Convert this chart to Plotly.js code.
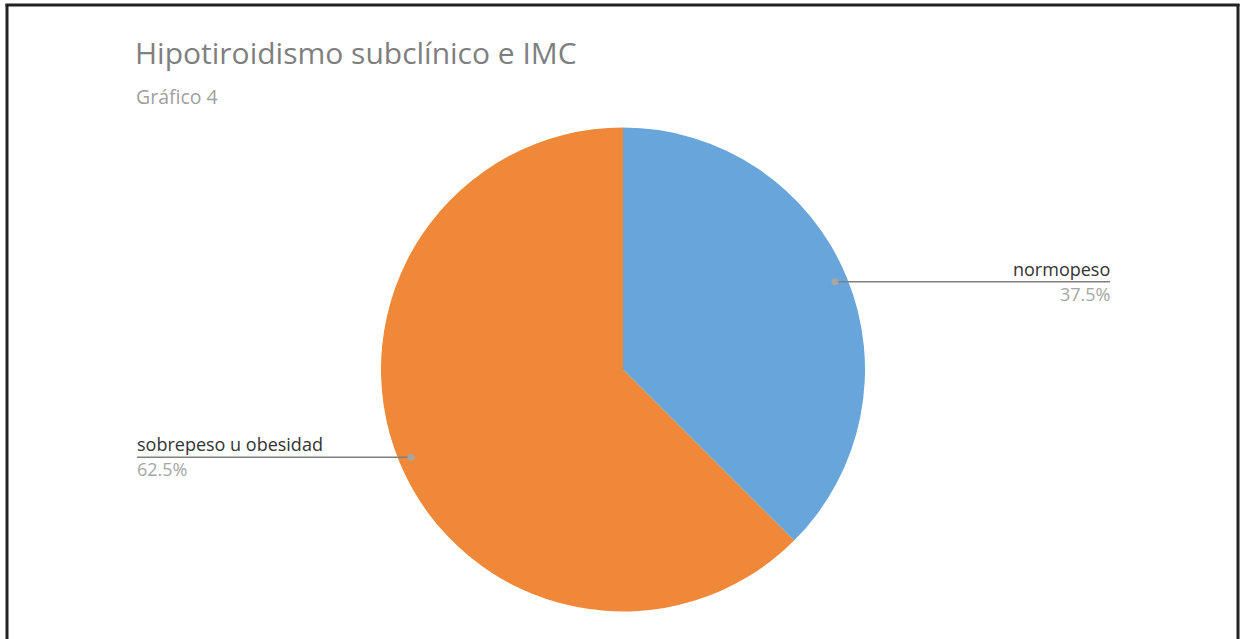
<!DOCTYPE html>
<html>
<head>
<meta charset="utf-8">
<script src="https://cdn.plot.ly/plotly-3.0.1.min.js"></script>
<style>
html,body{margin:0;padding:0;background:#fff;}
#chart{width:1243px;height:639px;}
</style>
</head>
<body>
<div id="chart"></div>
<script>
const categories = ["normopeso", "sobrepeso u obesidad"];
const values = [37.5, 62.5];
const percentLabels = ["37.5%", "62.5%"];
const colors = ["#68A5DA", "#EF8839"];

const W = 1243, H = 639;
const FONT = "Open Sans, Noto Sans, sans-serif";

// pie geometry (pixels)
const cx = 623, cy = 369.5, R = 242;
const domX = [2 * cx / W - 1, 1];
const domY = [1 - (cy + R) / H, 1 - (cy - R) / H];

const px = x => x / W;
const py = y => 1 - y / H;

// label leader geometry
const dotFrac = 0.948;
const labelEnds = [1110, 137];   // where the leader lines end, pixels

const total = values.reduce((a, b) => a + b, 0);
const shapes = [];
const annotations = [];
let cum = 0;
values.forEach((v, i) => {
  const mid = (cum + v / 2) / total * 2 * Math.PI;
  cum += v;
  const dx = Math.sin(mid) * R * dotFrac;
  const dy = -Math.cos(mid) * R * dotFrac;
  const dotX = cx + dx, dotY = cy + dy;
  const right = dx > 0;
  const endX = labelEnds[i];
  shapes.push({type: "line", xref: "paper", yref: "paper",
    x0: px(dotX), y0: py(dotY), x1: px(endX), y1: py(dotY),
    line: {color: "#808080", width: 1.5}});
  shapes.push({type: "circle", xref: "paper", yref: "paper",
    x0: px(dotX - 3.5), x1: px(dotX + 3.5), y0: py(dotY - 3.5), y1: py(dotY + 3.5),
    fillcolor: "#a6a6a6", line: {width: 0}});
  annotations.push({xref: "paper", yref: "paper", x: px(endX), y: py(dotY - 1),
    xanchor: right ? "right" : "left", yanchor: "bottom", showarrow: false,
    borderpad: 0, borderwidth: 0,
    text: categories[i], font: {family: FONT, size: 18, color: "#333333"}});
  annotations.push({xref: "paper", yref: "paper", x: px(endX), y: py(dotY + 0),
    xanchor: right ? "right" : "left", yanchor: "top", showarrow: false,
    borderpad: 0, borderwidth: 0,
    text: percentLabels[i], font: {family: FONT, size: 18, color: "#a6a6a6"}});
});

// subtitle
annotations.push({xref: "paper", yref: "paper", x: px(136), y: py(97),
  xanchor: "left", yanchor: "middle", showarrow: false, borderpad: 0, borderwidth: 0,
  text: "Gráfico 4", font: {family: FONT, size: 19.5, color: "#a0a0a0"}});

// frame
shapes.push({type: "line", xref: "paper", yref: "paper", x0: px(7), x1: px(7), y0: py(4), y1: 0, line: {color: "#222", width: 3}});
shapes.push({type: "line", xref: "paper", yref: "paper", x0: px(5.5), x1: px(1239.5), y0: py(5), y1: py(5), line: {color: "#222", width: 3}});
shapes.push({type: "line", xref: "paper", yref: "paper", x0: px(1238), x1: px(1238), y0: py(4), y1: 0, line: {color: "#222", width: 3}});

const data = [{
  type: "pie",
  labels: categories,
  values: values,
  sort: false,
  direction: "clockwise",
  rotation: 0,
  marker: {colors: colors, line: {width: 0}},
  textinfo: "none",
  hoverinfo: "label+percent",
  showlegend: false,
  domain: {x: domX, y: domY}
}];

const layout = {
  width: W, height: H,
  margin: {l: 0, r: 0, t: 0, b: 0},
  paper_bgcolor: "#ffffff",
  title: {text: "Hipotiroidismo subclínico e IMC", x: px(135), xanchor: "left",
    xref: "paper", y: py(53), yanchor: "middle", yref: "container",
    font: {family: FONT, size: 30, color: "#7f7f7f"}},
  shapes: shapes,
  annotations: annotations
};

Plotly.newPlot("chart", data, layout, {displayModeBar: false});
</script>
</body>
</html>
